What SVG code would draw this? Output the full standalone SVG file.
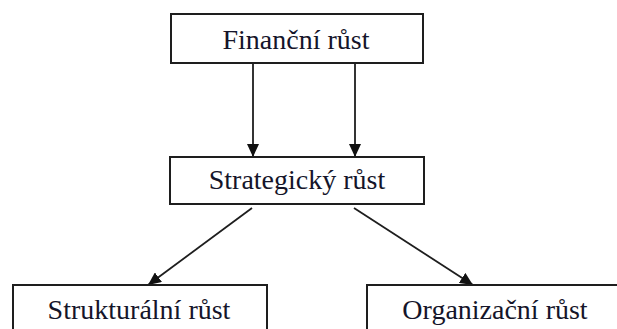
<svg xmlns="http://www.w3.org/2000/svg" width="617" height="329" viewBox="0 0 617 329">
  <defs>
    <style>
      .box { fill: #ffffff; stroke: #1e1e1e; stroke-width: 2; }
      .lbl { font-family: "Liberation Serif", "Times New Roman", serif; font-size: 28px; fill: #15152a; text-anchor: middle; }
      .edge { stroke: #1e1e1e; stroke-width: 1.8; fill: none; marker-end: url(#arrow); }
    </style>
    <marker id="arrow" markerUnits="userSpaceOnUse" markerWidth="13" markerHeight="12" viewBox="0 0 13 12" refX="13" refY="6" orient="auto">
      <path d="M0,0 L13,6 L0,12 Z" fill="#111"/>
    </marker>
  </defs>
  <rect width="617" height="329" fill="#ffffff"/>
  <g id="connectors">
    <line class="edge" x1="253" y1="63" x2="253" y2="157"/>
    <line class="edge" x1="355" y1="63" x2="355" y2="157"/>
    <line class="edge" x1="252" y1="208" x2="148" y2="285"/>
    <line class="edge" x1="354" y1="208" x2="473" y2="285"/>
  </g>
  <g id="financni">
    <rect class="box" x="171" y="14" width="252" height="49"/>
    <text class="lbl" x="296" y="49">Finanční růst</text>
  </g>
  <g id="strategicky">
    <rect class="box" x="170" y="157" width="254" height="47"/>
    <text class="lbl" x="297" y="189">Strategický růst</text>
  </g>
  <g id="strukturalni">
    <rect class="box" x="13" y="285" width="254" height="60"/>
    <text class="lbl" x="139" y="319">Strukturální růst</text>
  </g>
  <g id="organizacni">
    <rect class="box" x="367" y="285" width="260" height="60"/>
    <text class="lbl" x="495" y="319">Organizační růst</text>
  </g>
</svg>
